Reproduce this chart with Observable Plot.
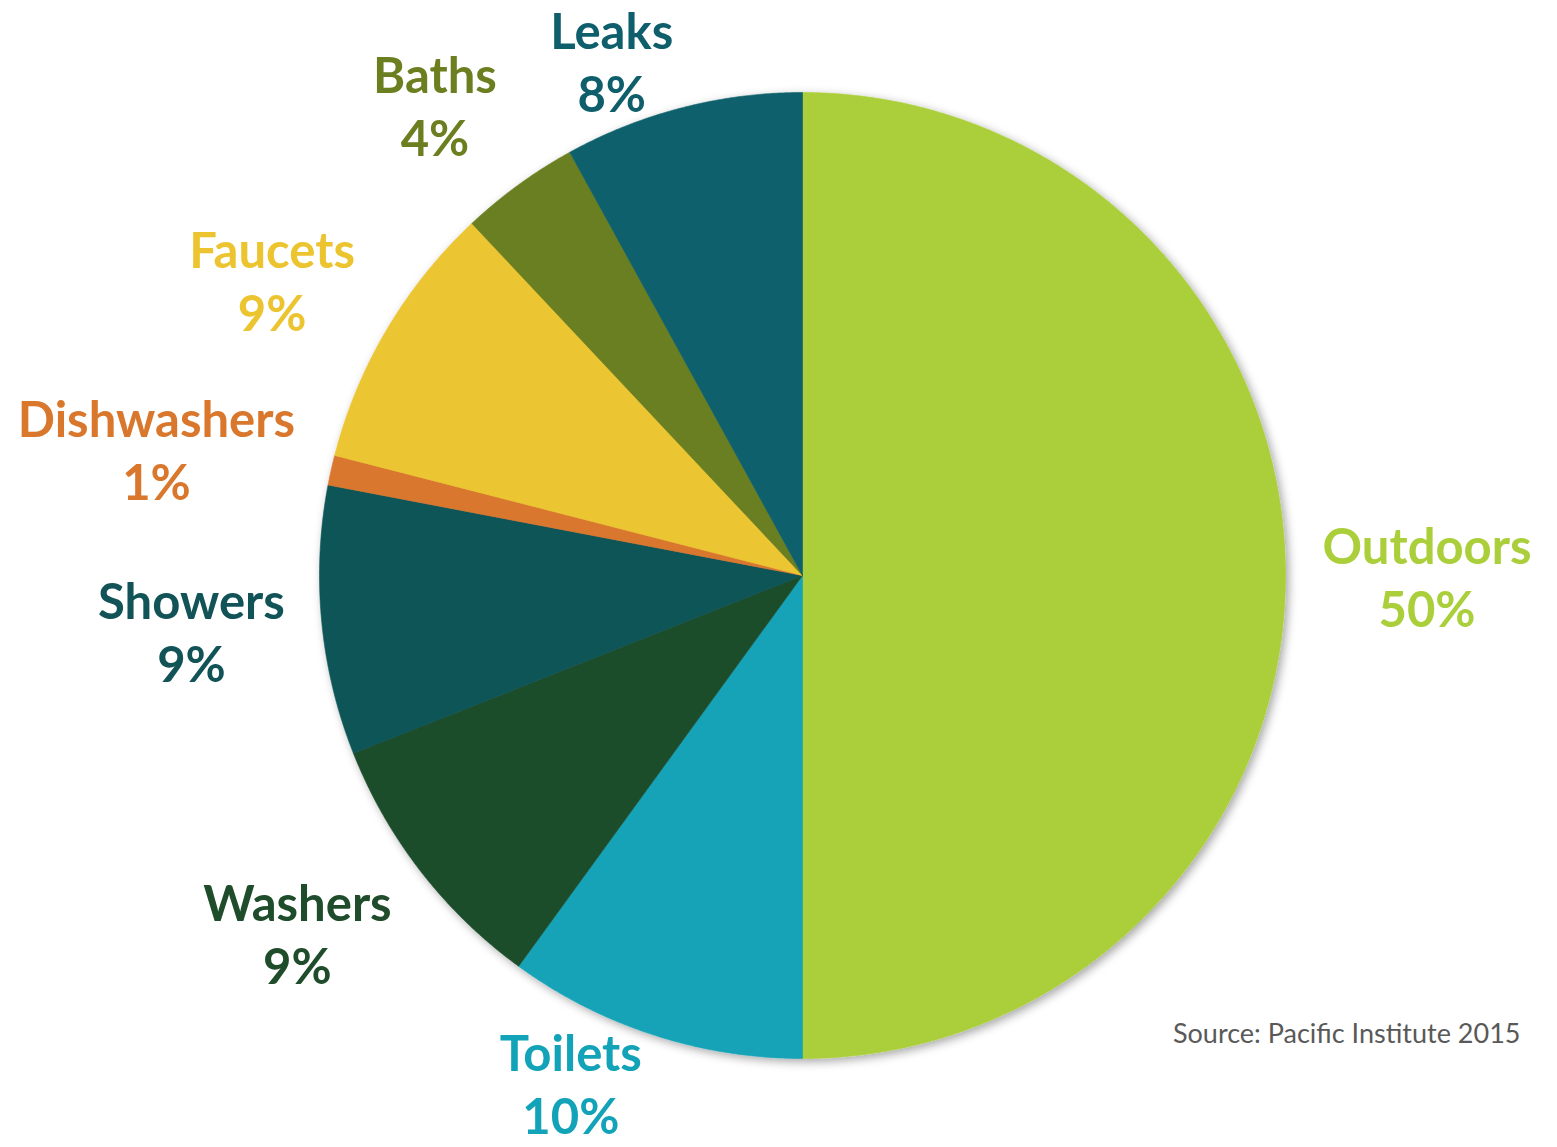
<!DOCTYPE html>
<html><head><meta charset="utf-8">
<script src="https://cdn.jsdelivr.net/npm/d3@7"></script>
<script src="https://cdn.jsdelivr.net/npm/@observablehq/plot@0.6"></script>
<style>html,body{margin:0;padding:0;background:#fff;overflow:hidden}</style>
</head><body><div id="chart"></div>
<script>
// ---- data ----
const categories = ["Outdoors","Toilets","Washers","Showers","Dishwashers","Faucets","Baths","Leaks"];
const shares = [50, 10, 9, 9, 1, 9, 4, 8];
const sliceColors = ["#abcf3a","#13a3b8","#1f4d2c","#105457","#d9772e","#ecc532","#6b7f20","#0d616c"];
const labelColors = ["#abcf3a","#13a3b8","#1f4d2c","#115357","#d9782d","#ecc430","#6b7f20","#0e5f6b"];
const sourceNote = "Source: Pacific Institute 2015";

// ---- layout ----
const W = 1557, H = 1147, cx = 802, cy = 575, R = 483;
const FONT = "Lato", LABEL_SIZE = 49, LINE_H = 1.29;
const toX = px => (px - cx) / R, toY = py => (cy - py) / R;

const arcs = d3.pie().sort(null).value(d => d)(shares);

// slice polygons computed from the pie angles
const slicePts = [];
arcs.forEach((a, i) => {
  const name = categories[i], color = sliceColors[i];
  slicePts.push({name, color, x: 0, y: 0});
  const n = Math.max(4, Math.ceil((a.endAngle - a.startAngle) / 0.005));
  for (let k = 0; k <= n; k++) {
    const t = a.startAngle + (a.endAngle - a.startAngle) * k / n;
    slicePts.push({name, color, x: Math.sin(t), y: Math.cos(t)});
  }
  slicePts.push({name, color, x: 0, y: 0});
});

// label placement ("outside end"): anchor just outside the rim on the mid-angle ray,
// label box shifted outward by its half-width horizontally, proportionally vertically
const ctx = document.createElement("canvas").getContext("2d");
ctx.font = `700 ${LABEL_SIZE}px ${FONT}`;
const gap = 37, vShift = 62, textHalfH = 52;
const labels = arcs.map((a, i) => {
  const l1 = categories[i], l2 = shares[i] + "%";
  const hw = Math.max(ctx.measureText(l1).width, ctx.measureText(l2).width) / 2;
  const m = (a.startAngle + a.endAngle) / 2;
  const dx = Math.sin(m), dy = -Math.cos(m);
  let px = cx + dx * (R + gap) + hw * Math.sign(dx);
  let py = cy + dy * (R + gap) + vShift * dy;
  py = Math.max(8 + textHalfH, Math.min(H - 13 - textHalfH, py));
  return {x: toX(px), y: toY(py), text: l1 + "\n" + l2, color: labelColors[i]};
});

const chart = Plot.plot({
  width: W, height: H,
  margin: 0,
  x: {domain: [toX(0), toX(W)], axis: null},
  y: {domain: [toY(H), toY(0)], axis: null},
  color: {type: "identity"},
  style: {background: "#fff", overflow: "visible"},
  marks: [
    Plot.line(slicePts, {x: "x", y: "y", z: "name", fill: "color", stroke: "color", strokeWidth: 0.6, curve: "linear"}),
    Plot.text(labels, {x: "x", y: "y", text: "text", fill: "color", fontSize: LABEL_SIZE, fontWeight: 700,
      fontFamily: FONT, lineHeight: LINE_H, textAnchor: "middle"}),
    Plot.text([sourceNote], {x: () => toX(1520), y: () => toY(1034), text: d => d, textAnchor: "end",
      fill: "#595959", fontSize: 27, fontFamily: FONT})
  ]
});
document.getElementById("chart").appendChild(chart);

// soft drop shadow under the pie
const svgNS = "http://www.w3.org/2000/svg";
const defs = document.createElementNS(svgNS, "defs");
defs.innerHTML = `<filter id="pieShadow" x="-10%" y="-10%" width="120%" height="120%">
  <feDropShadow dx="3" dy="3" stdDeviation="5" flood-color="#000" flood-opacity="0.35"/></filter>`;
chart.insertBefore(defs, chart.firstChild);
const pieG = chart.querySelector('g[aria-label="line"]');
if (pieG) pieG.setAttribute("filter", "url(#pieShadow)");
</script>
</body></html>
